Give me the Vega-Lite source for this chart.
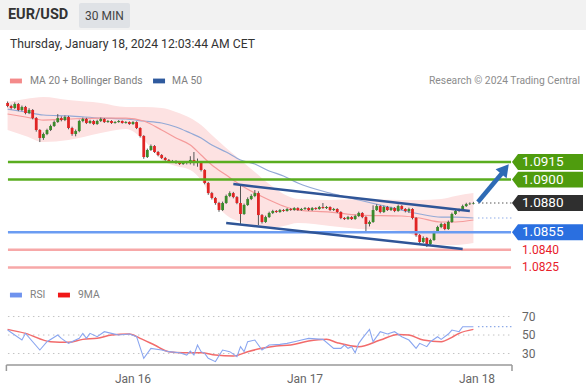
{
"$schema": "https://vega.github.io/schema/vega-lite/v6.json",
"width": 586, "height": 392, "padding": 0, "autosize": {"type": "none"},
"background": "#ffffff",
"config": {"view": {"stroke": null}, "font": "Roboto"},
"datasets": {
"one": [{}],
"candles": [
{"t":"2024-01-15T06:30Z","o":1.09655,"h":1.09668,"l":1.09618,"c":1.09629},
{"t":"2024-01-15T07:00Z","o":1.09629,"h":1.09640,"l":1.09600,"c":1.09612},
{"t":"2024-01-15T07:30Z","o":1.09612,"h":1.09660,"l":1.09604,"c":1.09646},
{"t":"2024-01-15T08:00Z","o":1.09646,"h":1.09655,"l":1.09585,"c":1.09595},
{"t":"2024-01-15T08:30Z","o":1.09595,"h":1.09633,"l":1.09585,"c":1.09621},
{"t":"2024-01-15T09:00Z","o":1.09621,"h":1.09630,"l":1.09558,"c":1.09569},
{"t":"2024-01-15T09:30Z","o":1.09569,"h":1.09610,"l":1.09560,"c":1.09595},
{"t":"2024-01-15T10:00Z","o":1.09595,"h":1.09603,"l":1.09515,"c":1.09526},
{"t":"2024-01-15T10:30Z","o":1.09526,"h":1.09535,"l":1.09410,"c":1.09424},
{"t":"2024-01-15T11:00Z","o":1.09424,"h":1.09432,"l":1.09321,"c":1.09356},
{"t":"2024-01-15T11:30Z","o":1.09356,"h":1.09402,"l":1.09340,"c":1.09390},
{"t":"2024-01-15T12:00Z","o":1.09390,"h":1.09435,"l":1.09380,"c":1.09424},
{"t":"2024-01-15T12:30Z","o":1.09424,"h":1.09470,"l":1.09415,"c":1.09458},
{"t":"2024-01-15T13:00Z","o":1.09458,"h":1.09505,"l":1.09450,"c":1.09492},
{"t":"2024-01-15T13:30Z","o":1.09492,"h":1.09560,"l":1.09485,"c":1.09526},
{"t":"2024-01-15T14:00Z","o":1.09526,"h":1.09540,"l":1.09498,"c":1.09509},
{"t":"2024-01-15T14:30Z","o":1.09509,"h":1.09548,"l":1.09500,"c":1.09535},
{"t":"2024-01-15T15:00Z","o":1.09535,"h":1.09545,"l":1.09430,"c":1.09441},
{"t":"2024-01-15T15:30Z","o":1.09441,"h":1.09452,"l":1.09375,"c":1.09390},
{"t":"2024-01-15T16:00Z","o":1.09390,"h":1.09428,"l":1.09370,"c":1.09415},
{"t":"2024-01-15T16:30Z","o":1.09415,"h":1.09512,"l":1.09405,"c":1.09501},
{"t":"2024-01-15T17:00Z","o":1.09501,"h":1.09530,"l":1.09490,"c":1.09518},
{"t":"2024-01-15T17:30Z","o":1.09518,"h":1.09528,"l":1.09475,"c":1.09484},
{"t":"2024-01-15T18:00Z","o":1.09484,"h":1.09512,"l":1.09476,"c":1.09501},
{"t":"2024-01-15T18:30Z","o":1.09501,"h":1.09510,"l":1.09466,"c":1.09475},
{"t":"2024-01-15T19:00Z","o":1.09475,"h":1.09512,"l":1.09468,"c":1.09501},
{"t":"2024-01-15T19:30Z","o":1.09501,"h":1.09530,"l":1.09492,"c":1.09518},
{"t":"2024-01-15T20:00Z","o":1.09518,"h":1.09526,"l":1.09484,"c":1.09492},
{"t":"2024-01-15T20:30Z","o":1.09492,"h":1.09510,"l":1.09485,"c":1.09501},
{"t":"2024-01-15T21:00Z","o":1.09501,"h":1.09508,"l":1.09476,"c":1.09484},
{"t":"2024-01-15T21:30Z","o":1.09484,"h":1.09500,"l":1.09478,"c":1.09492},
{"t":"2024-01-15T22:00Z","o":1.09492,"h":1.09509,"l":1.09486,"c":1.09501},
{"t":"2024-01-15T22:30Z","o":1.09501,"h":1.09506,"l":1.09478,"c":1.09484},
{"t":"2024-01-15T23:00Z","o":1.09484,"h":1.09500,"l":1.09478,"c":1.09492},
{"t":"2024-01-15T23:30Z","o":1.09492,"h":1.09498,"l":1.09468,"c":1.09475},
{"t":"2024-01-16T00:00Z","o":1.09475,"h":1.09500,"l":1.09468,"c":1.09492},
{"t":"2024-01-16T00:30Z","o":1.09492,"h":1.09498,"l":1.09432,"c":1.09441},
{"t":"2024-01-16T01:00Z","o":1.09441,"h":1.09448,"l":1.09360,"c":1.09373},
{"t":"2024-01-16T01:30Z","o":1.09373,"h":1.09380,"l":1.09178,"c":1.09193},
{"t":"2024-01-16T02:00Z","o":1.09193,"h":1.09265,"l":1.09185,"c":1.09253},
{"t":"2024-01-16T02:30Z","o":1.09253,"h":1.09300,"l":1.09245,"c":1.09287},
{"t":"2024-01-16T03:00Z","o":1.09287,"h":1.09295,"l":1.09228,"c":1.09236},
{"t":"2024-01-16T03:30Z","o":1.09236,"h":1.09245,"l":1.09200,"c":1.09210},
{"t":"2024-01-16T04:00Z","o":1.09210,"h":1.09218,"l":1.09176,"c":1.09185},
{"t":"2024-01-16T04:30Z","o":1.09185,"h":1.09194,"l":1.09160,"c":1.09168},
{"t":"2024-01-16T05:00Z","o":1.09168,"h":1.09176,"l":1.09142,"c":1.09150},
{"t":"2024-01-16T05:30Z","o":1.09150,"h":1.09168,"l":1.09142,"c":1.09159},
{"t":"2024-01-16T06:00Z","o":1.09159,"h":1.09166,"l":1.09135,"c":1.09142},
{"t":"2024-01-16T06:30Z","o":1.09142,"h":1.09150,"l":1.09125,"c":1.09133},
{"t":"2024-01-16T07:00Z","o":1.09133,"h":1.09158,"l":1.09126,"c":1.09150},
{"t":"2024-01-16T07:30Z","o":1.09150,"h":1.09158,"l":1.09130,"c":1.09142},
{"t":"2024-01-16T08:00Z","o":1.09142,"h":1.09200,"l":1.09130,"c":1.09168},
{"t":"2024-01-16T08:30Z","o":1.09168,"h":1.09236,"l":1.09120,"c":1.09150},
{"t":"2024-01-16T09:00Z","o":1.09150,"h":1.09180,"l":1.09110,"c":1.09142},
{"t":"2024-01-16T09:30Z","o":1.09142,"h":1.09150,"l":1.09070,"c":1.09082},
{"t":"2024-01-16T10:00Z","o":1.09082,"h":1.09090,"l":1.08960,"c":1.08971},
{"t":"2024-01-16T10:30Z","o":1.08971,"h":1.08980,"l":1.08870,"c":1.08885},
{"t":"2024-01-16T11:00Z","o":1.08885,"h":1.08895,"l":1.08830,"c":1.08843},
{"t":"2024-01-16T11:30Z","o":1.08843,"h":1.08852,"l":1.08785,"c":1.08800},
{"t":"2024-01-16T12:00Z","o":1.08800,"h":1.08810,"l":1.08725,"c":1.08740},
{"t":"2024-01-16T12:30Z","o":1.08740,"h":1.08812,"l":1.08732,"c":1.08800},
{"t":"2024-01-16T13:00Z","o":1.08800,"h":1.08872,"l":1.08792,"c":1.08860},
{"t":"2024-01-16T13:30Z","o":1.08860,"h":1.08900,"l":1.08850,"c":1.08885},
{"t":"2024-01-16T14:00Z","o":1.08885,"h":1.08895,"l":1.08840,"c":1.08851},
{"t":"2024-01-16T14:30Z","o":1.08851,"h":1.08860,"l":1.08790,"c":1.08800},
{"t":"2024-01-16T15:00Z","o":1.08800,"h":1.08954,"l":1.08612,"c":1.08706},
{"t":"2024-01-16T15:30Z","o":1.08706,"h":1.08795,"l":1.08698,"c":1.08783},
{"t":"2024-01-16T16:00Z","o":1.08783,"h":1.08848,"l":1.08775,"c":1.08834},
{"t":"2024-01-16T16:30Z","o":1.08834,"h":1.08875,"l":1.08825,"c":1.08860},
{"t":"2024-01-16T17:00Z","o":1.08860,"h":1.08911,"l":1.08850,"c":1.08885},
{"t":"2024-01-16T17:30Z","o":1.08885,"h":1.08900,"l":1.08612,"c":1.08697},
{"t":"2024-01-16T18:00Z","o":1.08697,"h":1.08706,"l":1.08625,"c":1.08638},
{"t":"2024-01-16T18:30Z","o":1.08638,"h":1.08692,"l":1.08630,"c":1.08680},
{"t":"2024-01-16T19:00Z","o":1.08680,"h":1.08726,"l":1.08672,"c":1.08715},
{"t":"2024-01-16T19:30Z","o":1.08715,"h":1.08742,"l":1.08706,"c":1.08732},
{"t":"2024-01-16T20:00Z","o":1.08732,"h":1.08740,"l":1.08715,"c":1.08723},
{"t":"2024-01-16T20:30Z","o":1.08723,"h":1.08749,"l":1.08716,"c":1.08740},
{"t":"2024-01-16T21:00Z","o":1.08740,"h":1.08748,"l":1.08725,"c":1.08732},
{"t":"2024-01-16T21:30Z","o":1.08732,"h":1.08757,"l":1.08726,"c":1.08749},
{"t":"2024-01-16T22:00Z","o":1.08749,"h":1.08756,"l":1.08733,"c":1.08740},
{"t":"2024-01-16T22:30Z","o":1.08740,"h":1.08765,"l":1.08734,"c":1.08757},
{"t":"2024-01-16T23:00Z","o":1.08757,"h":1.08764,"l":1.08733,"c":1.08740},
{"t":"2024-01-16T23:30Z","o":1.08740,"h":1.08758,"l":1.08733,"c":1.08749},
{"t":"2024-01-17T00:00Z","o":1.08749,"h":1.08766,"l":1.08741,"c":1.08757},
{"t":"2024-01-17T00:30Z","o":1.08757,"h":1.08764,"l":1.08732,"c":1.08740},
{"t":"2024-01-17T01:00Z","o":1.08740,"h":1.08766,"l":1.08733,"c":1.08757},
{"t":"2024-01-17T01:30Z","o":1.08757,"h":1.08764,"l":1.08741,"c":1.08749},
{"t":"2024-01-17T02:00Z","o":1.08749,"h":1.08775,"l":1.08742,"c":1.08766},
{"t":"2024-01-17T02:30Z","o":1.08766,"h":1.08800,"l":1.08750,"c":1.08757},
{"t":"2024-01-17T03:00Z","o":1.08757,"h":1.08775,"l":1.08749,"c":1.08766},
{"t":"2024-01-17T03:30Z","o":1.08766,"h":1.08772,"l":1.08732,"c":1.08740},
{"t":"2024-01-17T04:00Z","o":1.08740,"h":1.08758,"l":1.08732,"c":1.08749},
{"t":"2024-01-17T04:30Z","o":1.08749,"h":1.08756,"l":1.08715,"c":1.08723},
{"t":"2024-01-17T05:00Z","o":1.08723,"h":1.08730,"l":1.08662,"c":1.08672},
{"t":"2024-01-17T05:30Z","o":1.08672,"h":1.08680,"l":1.08655,"c":1.08663},
{"t":"2024-01-17T06:00Z","o":1.08663,"h":1.08690,"l":1.08656,"c":1.08680},
{"t":"2024-01-17T06:30Z","o":1.08680,"h":1.08688,"l":1.08655,"c":1.08663},
{"t":"2024-01-17T07:00Z","o":1.08663,"h":1.08700,"l":1.08656,"c":1.08689},
{"t":"2024-01-17T07:30Z","o":1.08689,"h":1.08726,"l":1.08680,"c":1.08715},
{"t":"2024-01-17T08:00Z","o":1.08715,"h":1.08722,"l":1.08670,"c":1.08680},
{"t":"2024-01-17T08:30Z","o":1.08680,"h":1.08688,"l":1.08552,"c":1.08621},
{"t":"2024-01-17T09:00Z","o":1.08621,"h":1.08650,"l":1.08600,"c":1.08638},
{"t":"2024-01-17T09:30Z","o":1.08638,"h":1.08780,"l":1.08630,"c":1.08740},
{"t":"2024-01-17T10:00Z","o":1.08740,"h":1.08790,"l":1.08732,"c":1.08774},
{"t":"2024-01-17T10:30Z","o":1.08774,"h":1.08782,"l":1.08712,"c":1.08723},
{"t":"2024-01-17T11:00Z","o":1.08723,"h":1.08778,"l":1.08715,"c":1.08766},
{"t":"2024-01-17T11:30Z","o":1.08766,"h":1.08775,"l":1.08732,"c":1.08740},
{"t":"2024-01-17T12:00Z","o":1.08740,"h":1.08768,"l":1.08732,"c":1.08757},
{"t":"2024-01-17T12:30Z","o":1.08757,"h":1.08765,"l":1.08722,"c":1.08732},
{"t":"2024-01-17T13:00Z","o":1.08732,"h":1.08786,"l":1.08725,"c":1.08774},
{"t":"2024-01-17T13:30Z","o":1.08774,"h":1.08782,"l":1.08740,"c":1.08749},
{"t":"2024-01-17T14:00Z","o":1.08749,"h":1.08757,"l":1.08720,"c":1.08732},
{"t":"2024-01-17T14:30Z","o":1.08732,"h":1.08760,"l":1.08715,"c":1.08749},
{"t":"2024-01-17T15:00Z","o":1.08749,"h":1.08756,"l":1.08660,"c":1.08672},
{"t":"2024-01-17T15:30Z","o":1.08672,"h":1.08680,"l":1.08512,"c":1.08526},
{"t":"2024-01-17T16:00Z","o":1.08526,"h":1.08535,"l":1.08450,"c":1.08467},
{"t":"2024-01-17T16:30Z","o":1.08467,"h":1.08515,"l":1.08458,"c":1.08501},
{"t":"2024-01-17T17:00Z","o":1.08501,"h":1.08510,"l":1.08424,"c":1.08450},
{"t":"2024-01-17T17:30Z","o":1.08450,"h":1.08495,"l":1.08440,"c":1.08484},
{"t":"2024-01-17T18:00Z","o":1.08484,"h":1.08562,"l":1.08476,"c":1.08552},
{"t":"2024-01-17T18:30Z","o":1.08552,"h":1.08606,"l":1.08545,"c":1.08595},
{"t":"2024-01-17T19:00Z","o":1.08595,"h":1.08632,"l":1.08585,"c":1.08621},
{"t":"2024-01-17T19:30Z","o":1.08621,"h":1.08630,"l":1.08568,"c":1.08578},
{"t":"2024-01-17T20:00Z","o":1.08578,"h":1.08650,"l":1.08570,"c":1.08638},
{"t":"2024-01-17T20:30Z","o":1.08638,"h":1.08718,"l":1.08630,"c":1.08706},
{"t":"2024-01-17T21:00Z","o":1.08706,"h":1.08745,"l":1.08698,"c":1.08732},
{"t":"2024-01-17T21:30Z","o":1.08732,"h":1.08752,"l":1.08722,"c":1.08740},
{"t":"2024-01-17T22:00Z","o":1.08740,"h":1.08786,"l":1.08732,"c":1.08774},
{"t":"2024-01-17T22:30Z","o":1.08774,"h":1.08802,"l":1.08766,"c":1.08791},
{"t":"2024-01-17T23:00Z","o":1.08791,"h":1.08806,"l":1.08783,"c":1.08795},
{"t":"2024-01-17T23:30Z","o":1.08795,"h":1.08810,"l":1.08788,"c":1.08800}
],
"bands": [
{"t":"2024-01-15T06:30Z","up":1.09663,"lo":1.09424,"m20":1.09561,"m50":1.09603},
{"t":"2024-01-15T09:00Z","up":1.09689,"lo":1.09373,"m20":1.09535,"m50":1.09578},
{"t":"2024-01-15T11:30Z","up":1.09706,"lo":1.09321,"m20":1.09509,"m50":1.09552},
{"t":"2024-01-15T15:00Z","up":1.09680,"lo":1.09338,"m20":1.09518,"m50":1.09544},
{"t":"2024-01-15T19:30Z","up":1.09655,"lo":1.09398,"m20":1.09526,"m50":1.09526},
{"t":"2024-01-15T23:00Z","up":1.09621,"lo":1.09432,"m20":1.09526,"m50":1.09518},
{"t":"2024-01-16T01:30Z","up":1.09621,"lo":1.09338,"m20":1.09501,"m50":1.09501},
{"t":"2024-01-16T04:00Z","up":1.09612,"lo":1.09168,"m20":1.09424,"m50":1.09484},
{"t":"2024-01-16T06:00Z","up":1.09578,"lo":1.09116,"m20":1.09356,"m50":1.09450},
{"t":"2024-01-16T08:00Z","up":1.09526,"lo":1.09082,"m20":1.09296,"m50":1.09398},
{"t":"2024-01-16T09:30Z","up":1.09467,"lo":1.08997,"m20":1.09210,"m50":1.09356},
{"t":"2024-01-16T11:00Z","up":1.09381,"lo":1.08843,"m20":1.09125,"m50":1.09296},
{"t":"2024-01-16T13:00Z","up":1.09270,"lo":1.08697,"m20":1.09039,"m50":1.09236},
{"t":"2024-01-16T15:00Z","up":1.09168,"lo":1.08638,"m20":1.08954,"m50":1.09168},
{"t":"2024-01-16T17:00Z","up":1.09065,"lo":1.08603,"m20":1.08885,"m50":1.09133},
{"t":"2024-01-16T19:00Z","up":1.08962,"lo":1.08586,"m20":1.08826,"m50":1.09074},
{"t":"2024-01-16T21:00Z","up":1.08877,"lo":1.08603,"m20":1.08774,"m50":1.09031},
{"t":"2024-01-16T23:00Z","up":1.08834,"lo":1.08629,"m20":1.08740,"m50":1.08971},
{"t":"2024-01-17T03:30Z","up":1.08826,"lo":1.08603,"m20":1.08723,"m50":1.08885},
{"t":"2024-01-17T07:30Z","up":1.08834,"lo":1.08578,"m20":1.08697,"m50":1.08826},
{"t":"2024-01-17T13:30Z","up":1.08826,"lo":1.08561,"m20":1.08689,"m50":1.08740},
{"t":"2024-01-17T16:00Z","up":1.08826,"lo":1.08501,"m20":1.08672,"m50":1.08706},
{"t":"2024-01-17T19:00Z","up":1.08834,"lo":1.08441,"m20":1.08638,"m50":1.08680},
{"t":"2024-01-17T21:00Z","up":1.08860,"lo":1.08441,"m20":1.08638,"m50":1.08680},
{"t":"2024-01-17T23:30Z","up":1.08885,"lo":1.08458,"m20":1.08655,"m50":1.08672}
],
"rsi": [
{"t":"2024-01-15T06:30Z","v":55.4},{"t":"2024-01-15T08:30Z","v":44.6},{"t":"2024-01-15T09:00Z","v":51.8},
{"t":"2024-01-15T11:00Z","v":33.8},{"t":"2024-01-15T12:00Z","v":42.8},{"t":"2024-01-15T13:30Z","v":50},
{"t":"2024-01-15T14:00Z","v":46.4},{"t":"2024-01-15T15:00Z","v":41},{"t":"2024-01-15T16:30Z","v":46.4},
{"t":"2024-01-15T17:00Z","v":51.8},{"t":"2024-01-15T17:30Z","v":46.4},{"t":"2024-01-15T18:00Z","v":51.8},
{"t":"2024-01-15T19:00Z","v":48.2},{"t":"2024-01-15T20:00Z","v":53.6},{"t":"2024-01-15T21:00Z","v":51.8},
{"t":"2024-01-15T22:00Z","v":50},{"t":"2024-01-15T23:30Z","v":51.1},{"t":"2024-01-16T00:30Z","v":48.2},
{"t":"2024-01-16T01:30Z","v":24.8},{"t":"2024-01-16T02:30Z","v":35.6},{"t":"2024-01-16T04:00Z","v":33.8},
{"t":"2024-01-16T05:00Z","v":32},{"t":"2024-01-16T06:30Z","v":30.9},{"t":"2024-01-16T07:30Z","v":28.4},
{"t":"2024-01-16T08:00Z","v":32.7},{"t":"2024-01-16T08:30Z","v":28.4},{"t":"2024-01-16T09:00Z","v":39.2},
{"t":"2024-01-16T09:30Z","v":32},{"t":"2024-01-16T10:00Z","v":30.2},{"t":"2024-01-16T10:30Z","v":24.8},
{"t":"2024-01-16T11:30Z","v":21.2},{"t":"2024-01-16T12:30Z","v":33.8},{"t":"2024-01-16T13:30Z","v":32},
{"t":"2024-01-16T14:30Z","v":26.6},{"t":"2024-01-16T15:00Z","v":37.4},{"t":"2024-01-16T15:30Z","v":32},
{"t":"2024-01-16T16:00Z","v":42.8},{"t":"2024-01-16T17:00Z","v":44.6},{"t":"2024-01-16T18:00Z","v":33.8},
{"t":"2024-01-16T19:00Z","v":39.2},{"t":"2024-01-16T20:30Z","v":39.9},{"t":"2024-01-16T21:30Z","v":41},
{"t":"2024-01-16T22:30Z","v":42.8},{"t":"2024-01-16T23:30Z","v":44.6},{"t":"2024-01-17T00:30Z","v":46.4},
{"t":"2024-01-17T02:30Z","v":45.3},{"t":"2024-01-17T04:00Z","v":35.6},{"t":"2024-01-17T05:00Z","v":35.6},
{"t":"2024-01-17T05:30Z","v":39.2},{"t":"2024-01-17T06:00Z","v":35.6},{"t":"2024-01-17T06:30Z","v":37.4},
{"t":"2024-01-17T07:00Z","v":30.9},{"t":"2024-01-17T07:30Z","v":41},{"t":"2024-01-17T08:00Z","v":46.4},
{"t":"2024-01-17T09:00Z","v":56.1},{"t":"2024-01-17T09:30Z","v":42.8},{"t":"2024-01-17T10:30Z","v":53.6},
{"t":"2024-01-17T11:30Z","v":51.1},{"t":"2024-01-17T12:30Z","v":53.6},{"t":"2024-01-17T13:30Z","v":48.2},
{"t":"2024-01-17T14:30Z","v":44.6},{"t":"2024-01-17T15:30Z","v":35.6},{"t":"2024-01-17T16:00Z","v":41},
{"t":"2024-01-17T17:00Z","v":37.4},{"t":"2024-01-17T17:30Z","v":42.8},{"t":"2024-01-17T18:30Z","v":48.2},
{"t":"2024-01-17T19:00Z","v":45.3},{"t":"2024-01-17T20:00Z","v":51.1},{"t":"2024-01-17T20:30Z","v":55.4},
{"t":"2024-01-17T21:30Z","v":53.6},{"t":"2024-01-17T22:00Z","v":59},{"t":"2024-01-17T23:30Z","v":59}
],
"ma9": [
{"t":"2024-01-15T06:30Z","v":56.1},{"t":"2024-01-15T09:00Z","v":51.8},{"t":"2024-01-15T12:30Z","v":42.8},
{"t":"2024-01-15T15:00Z","v":42.1},{"t":"2024-01-15T17:00Z","v":45.3},{"t":"2024-01-15T19:00Z","v":46.4},
{"t":"2024-01-15T21:00Z","v":50},{"t":"2024-01-15T23:30Z","v":51.1},{"t":"2024-01-16T01:00Z","v":46.4},
{"t":"2024-01-16T03:00Z","v":39.2},{"t":"2024-01-16T05:00Z","v":32},{"t":"2024-01-16T07:00Z","v":30.9},
{"t":"2024-01-16T09:30Z","v":30.9},{"t":"2024-01-16T11:30Z","v":28.4},{"t":"2024-01-16T14:00Z","v":27.3},
{"t":"2024-01-16T16:00Z","v":32},{"t":"2024-01-16T18:00Z","v":35.6},{"t":"2024-01-16T20:00Z","v":38.1},
{"t":"2024-01-16T22:00Z","v":39.2},{"t":"2024-01-17T00:30Z","v":43.5},{"t":"2024-01-17T03:00Z","v":45.3},
{"t":"2024-01-17T04:30Z","v":41.7},{"t":"2024-01-17T07:30Z","v":37.4},{"t":"2024-01-17T10:30Z","v":44.6},
{"t":"2024-01-17T13:00Z","v":50.7},{"t":"2024-01-17T14:30Z","v":50},{"t":"2024-01-17T16:30Z","v":44.6},
{"t":"2024-01-17T19:00Z","v":42.8},{"t":"2024-01-17T20:30Z","v":47.5},{"t":"2024-01-17T21:30Z","v":51.8},
{"t":"2024-01-17T23:30Z","v":56.1}
],
"levels": [
{"p":1.0915,"k":"r2"},{"p":1.0900,"k":"r1"},{"p":1.0880,"k":"last"},
{"p":1.0855,"k":"piv"},{"p":1.0840,"k":"s1"},{"p":1.0825,"k":"s2"}
],
"rsigrid": [{"v":70},{"v":50},{"v":30}],
"days": [{"d":"2024-01-16T00:00Z","lab":"Jan 16"},{"d":"2024-01-17T00:00Z","lab":"Jan 17"},{"d":"2024-01-18T00:00Z","lab":"Jan 18"}]
},
"resolve": {"scale": {"y": "independent"}},
"layer": [
{"layer": [
{"data": {"name": "one"},
 "mark": {"type": "rect", "color": "#f2f2f2"},
 "encoding": {
  "x": {"datum": {"year":2024,"month":1,"date":15,"hours":5,"minutes":26,"seconds":30,"utc":true}, "type": "temporal", "axis": null},
  "x2": {"datum": {"year":2024,"month":1,"date":18,"hours":15,"minutes":12,"seconds":33,"utc":true}},
  "y": {"datum": 1.10535, "type": "quantitative", "axis": null, "scale": {"domain": [1.07185, 1.10535], "nice": false, "zero": false}},
  "y2": {"datum": 1.10279}}},
{"data": {"name": "one"},
 "mark": {"type": "rect", "color": "#dfe2e6", "cornerRadius": 2},
 "encoding": {
  "x": {"datum": {"year":2024,"month":1,"date":15,"hours":16,"minutes":28,"utc":true}, "type": "temporal", "axis": null},
  "x2": {"datum": {"year":2024,"month":1,"date":15,"hours":23,"minutes":35,"utc":true}},
  "y": {"datum": 1.10509, "type": "quantitative", "axis": null},
  "y2": {"datum": 1.10296}}},
{"data": {"name": "one"},
 "mark": {"type": "text", "text": "EUR/USD", "align": "left", "baseline": "middle", "fontSize": 14.5, "fontWeight": "bold", "color": "#333333"},
 "encoding": {
  "x": {"datum": {"year":2024,"month":1,"date":15,"hours":6,"minutes":33,"utc":true}, "type": "temporal", "axis": null},
  "y": {"datum": 1.10407, "type": "quantitative", "axis": null}}},
{"data": {"name": "one"},
 "mark": {"type": "text", "text": "30 MIN", "align": "center", "baseline": "middle", "fontSize": 12, "color": "#444444"},
 "encoding": {
  "x": {"datum": {"year":2024,"month":1,"date":15,"hours":20,"minutes":1,"utc":true}, "type": "temporal", "axis": null},
  "y": {"datum": 1.10402, "type": "quantitative", "axis": null}}},
{"data": {"name": "one"},
 "mark": {"type": "text", "text": "Thursday, January 18, 2024 12:03:44 AM CET", "align": "left", "baseline": "middle", "fontSize": 12.2, "color": "#333333"},
 "encoding": {
  "x": {"datum": {"year":2024,"month":1,"date":15,"hours":6,"minutes":50,"utc":true}, "type": "temporal", "axis": null},
  "y": {"datum": 1.10159, "type": "quantitative", "axis": null}}},
{"data": {"name": "one"},
 "mark": {"type": "point", "shape": "M-1,-0.4L1,-0.4L1,0.4L-1,0.4Z", "size": 144, "filled": true, "opacity": 1, "color": "#f48a8a", "strokeWidth": 0},
 "encoding": {
  "x": {"datum": {"year":2024,"month":1,"date":15,"hours":7,"minutes":40,"utc":true}, "type": "temporal", "axis": null},
  "y": {"datum": 1.09843, "type": "quantitative", "axis": null}}},
{"data": {"name": "one"},
 "mark": {"type": "text", "text": "MA 20 + Bollinger Bands", "align": "left", "baseline": "middle", "fontSize": 10.3, "color": "#808080"},
 "encoding": {
  "x": {"datum": {"year":2024,"month":1,"date":15,"hours":9,"minutes":38,"utc":true}, "type": "temporal", "axis": null},
  "y": {"datum": 1.09843, "type": "quantitative", "axis": null}}},
{"data": {"name": "one"},
 "mark": {"type": "point", "shape": "M-1,-0.4L1,-0.4L1,0.4L-1,0.4Z", "size": 144, "filled": true, "opacity": 1, "color": "#2f5a9e", "strokeWidth": 0},
 "encoding": {
  "x": {"datum": {"year":2024,"month":1,"date":16,"hours":3,"minutes":38,"utc":true}, "type": "temporal", "axis": null},
  "y": {"datum": 1.09843, "type": "quantitative", "axis": null}}},
{"data": {"name": "one"},
 "mark": {"type": "text", "text": "MA 50", "align": "left", "baseline": "middle", "fontSize": 10.3, "color": "#808080"},
 "encoding": {
  "x": {"datum": {"year":2024,"month":1,"date":16,"hours":5,"minutes":27,"utc":true}, "type": "temporal", "axis": null},
  "y": {"datum": 1.09843, "type": "quantitative", "axis": null}}},
{"data": {"name": "one"},
 "mark": {"type": "text", "text": "Research © 2024 Trading Central", "align": "right", "baseline": "middle", "fontSize": 10.3, "color": "#8c8c8c"},
 "encoding": {
  "x": {"datum": {"year":2024,"month":1,"date":18,"hours":14,"minutes":22,"utc":true}, "type": "temporal", "axis": null},
  "y": {"datum": 1.09843, "type": "quantitative", "axis": null}}},
{"data": {"name": "bands"},
 "mark": {"type": "area", "color": "#fde2e2", "opacity": 1, "interpolate": "monotone"},
 "encoding": {
  "x": {"field": "t", "type": "temporal", "axis": null},
  "y": {"field": "up", "type": "quantitative", "axis": null},
  "y2": {"field": "lo"}}},
{"data": {"name": "bands"},
 "mark": {"type": "line", "color": "#93a9d6", "strokeWidth": 1.2, "interpolate": "monotone"},
 "encoding": {
  "x": {"field": "t", "type": "temporal", "axis": null},
  "y": {"field": "m50", "type": "quantitative", "axis": null}}},
{"data": {"name": "bands"},
 "mark": {"type": "line", "color": "#f59b9b", "strokeWidth": 1.2, "interpolate": "monotone"},
 "encoding": {
  "x": {"field": "t", "type": "temporal", "axis": null},
  "y": {"field": "m20", "type": "quantitative", "axis": null}}},
{"data": {"name": "candles"},
 "mark": {"type": "rule", "color": "#555555", "strokeWidth": 1},
 "encoding": {
  "x": {"field": "t", "type": "temporal", "axis": null, "scale": {"type": "utc", "domain": [{"year":2024,"month":1,"date":15,"hours":5,"minutes":26,"seconds":30,"utc":true}, {"year":2024,"month":1,"date":18,"hours":15,"minutes":12,"seconds":33,"utc":true}]}},
  "y": {"field": "l", "type": "quantitative", "axis": null},
  "y2": {"field": "h"}}},
{"data": {"name": "candles"},
 "mark": {"type": "rule", "strokeWidth": 2.8},
 "encoding": {
  "x": {"field": "t", "type": "temporal", "axis": null},
  "y": {"field": "o", "type": "quantitative", "axis": null},
  "y2": {"field": "c"},
  "color": {"condition": {"test": "datum.c >= datum.o", "value": "#3b8a2c"}, "value": "#e02424"}}},
{"data": {"name": "levels"},
 "transform": [{"filter": "datum.k != 'last'"}],
 "mark": {"type": "rule"},
 "encoding": {
  "x": {"datum": {"year":2024,"month":1,"date":15,"hours":6,"minutes":33,"utc":true}, "type": "temporal", "axis": null},
  "x2": {"datum": {"year":2024,"month":1,"date":18,"hours":4,"minutes":45,"utc":true}},
  "y": {"field": "p", "type": "quantitative", "axis": null},
  "stroke": {"field": "k", "type": "nominal", "legend": null, "scale": {"domain": ["r2","r1","piv","s1","s2"], "range": ["#5aad1f","#5aad1f","#6b9cf2","#f7a8a8","#f7a8a8"]}},
  "strokeWidth": {"field": "k", "type": "nominal", "legend": null, "scale": {"domain": ["r2","r1","piv","s1","s2"], "range": [2.5,2.5,1.6,1,1]}}}},
{"data": {"name": "levels"},
 "transform": [{"filter": "datum.k == 'last'"}],
 "mark": {"type": "rule", "color": "#555555", "strokeWidth": 1.2, "strokeDash": [1.5, 2.5]},
 "encoding": {
  "x": {"datum": {"year":2024,"month":1,"date":18,"hours":0,"minutes":8,"utc":true}, "type": "temporal", "axis": null},
  "x2": {"datum": {"year":2024,"month":1,"date":18,"hours":4,"minutes":53,"utc":true}},
  "y": {"field": "p", "type": "quantitative", "axis": null}}},
{"data": {"name": "one"},
 "mark": {"type": "rule", "color": "#8fabe8", "strokeWidth": 1.2, "strokeDash": [1.5, 2.5]},
 "encoding": {
  "x": {"datum": {"year":2024,"month":1,"date":18,"hours":0,"minutes":8,"utc":true}, "type": "temporal", "axis": null},
  "x2": {"datum": {"year":2024,"month":1,"date":18,"hours":4,"minutes":53,"utc":true}},
  "y": {"datum": 1.08672, "type": "quantitative", "axis": null}}},
{"data": {"name": "one"},
 "mark": {"type": "rule", "color": "#2f5597", "strokeWidth": 2.5},
 "encoding": {
  "x": {"datum": {"year":2024,"month":1,"date":16,"hours":14,"minutes":0,"utc":true}, "type": "temporal", "axis": null},
  "x2": {"datum": {"year":2024,"month":1,"date":17,"hours":23,"minutes":0,"utc":true}},
  "y": {"datum": 1.08962, "type": "quantitative", "axis": null},
  "y2": {"datum": 1.08732}}},
{"data": {"name": "one"},
 "mark": {"type": "rule", "color": "#2f5597", "strokeWidth": 2.5},
 "encoding": {
  "x": {"datum": {"year":2024,"month":1,"date":16,"hours":13,"minutes":0,"utc":true}, "type": "temporal", "axis": null},
  "x2": {"datum": {"year":2024,"month":1,"date":17,"hours":22,"minutes":0,"utc":true}},
  "y": {"datum": 1.08629, "type": "quantitative", "axis": null},
  "y2": {"datum": 1.08407}}},
{"data": {"name": "one"},
 "mark": {"type": "rule", "color": "#2e6bb5", "strokeWidth": 4.5},
 "encoding": {
  "x": {"datum": {"year":2024,"month":1,"date":18,"hours":0,"minutes":8,"utc":true}, "type": "temporal", "axis": null},
  "x2": {"datum": {"year":2024,"month":1,"date":18,"hours":3,"minutes":38,"utc":true}},
  "y": {"datum": 1.08809, "type": "quantitative", "axis": null},
  "y2": {"datum": 1.09065}}},
{"data": {"name": "one"},
 "mark": {"type": "point", "shape": "triangle-up", "size": 200, "filled": true, "opacity": 1, "color": "#2e6bb5", "angle": 39, "strokeWidth": 0},
 "encoding": {
  "x": {"datum": {"year":2024,"month":1,"date":18,"hours":3,"minutes":54,"utc":true}, "type": "temporal", "axis": null},
  "y": {"datum": 1.09091, "type": "quantitative", "axis": null}}},
{"data": {"name": "levels"},
 "transform": [{"filter": "datum.k == 'r2' || datum.k == 'r1' || datum.k == 'last' || datum.k == 'piv'"}],
 "mark": {"type": "point", "shape": "M-1,0L-0.83,-0.225L1,-0.225L1,0.225L-0.83,0.225Z", "size": 5041, "filled": true, "opacity": 1, "strokeWidth": 0},
 "encoding": {
  "x": {"datum": {"year":2024,"month":1,"date":18,"hours":9,"minutes":50,"utc":true}, "type": "temporal", "axis": null},
  "y": {"field": "p", "type": "quantitative", "axis": null},
  "fill": {"field": "k", "type": "nominal", "legend": null, "scale": {"domain": ["r2","r1","last","piv"], "range": ["#4f9c0e","#4f9c0e","#2f2f2f","#2a6fe0"]}}}},
{"data": {"name": "levels"},
 "transform": [{"filter": "datum.k == 'r2' || datum.k == 'r1' || datum.k == 'last' || datum.k == 'piv'"}],
 "mark": {"type": "text", "align": "left", "baseline": "middle", "fontSize": 13.5, "color": "#ffffff"},
 "encoding": {
  "x": {"datum": {"year":2024,"month":1,"date":18,"hours":6,"minutes":17,"utc":true}, "type": "temporal", "axis": null},
  "y": {"field": "p", "type": "quantitative", "axis": null},
  "text": {"field": "p", "type": "quantitative", "format": ".4f"}}},
{"data": {"name": "levels"},
 "transform": [{"filter": "datum.k == 's1' || datum.k == 's2'"}],
 "mark": {"type": "text", "align": "left", "baseline": "middle", "fontSize": 12, "color": "#e8202a"},
 "encoding": {
  "x": {"datum": {"year":2024,"month":1,"date":18,"hours":6,"minutes":17,"utc":true}, "type": "temporal", "axis": null},
  "y": {"field": "p", "type": "quantitative", "axis": null},
  "text": {"field": "p", "type": "quantitative", "format": ".4f"}}}
]},
{"layer": [
{"data": {"name": "one"},
 "mark": {"type": "point", "shape": "M-1,-0.4L1,-0.4L1,0.4L-1,0.4Z", "size": 144, "filled": true, "opacity": 1, "color": "#6f93ee", "strokeWidth": 0},
 "encoding": {
  "x": {"datum": {"year":2024,"month":1,"date":15,"hours":7,"minutes":40,"utc":true}, "type": "temporal", "axis": null},
  "y": {"datum": 93.2, "type": "quantitative", "axis": null, "scale": {"domain": [-11.6, 412.2], "nice": false, "zero": false}}}},
{"data": {"name": "one"},
 "mark": {"type": "text", "text": "RSI", "align": "left", "baseline": "middle", "fontSize": 10.3, "color": "#808080"},
 "encoding": {
  "x": {"datum": {"year":2024,"month":1,"date":15,"hours":9,"minutes":38,"utc":true}, "type": "temporal", "axis": null},
  "y": {"datum": 93.2, "type": "quantitative", "axis": null}}},
{"data": {"name": "one"},
 "mark": {"type": "point", "shape": "M-1,-0.4L1,-0.4L1,0.4L-1,0.4Z", "size": 144, "filled": true, "opacity": 1, "color": "#f01818", "strokeWidth": 0},
 "encoding": {
  "x": {"datum": {"year":2024,"month":1,"date":15,"hours":14,"minutes":22,"utc":true}, "type": "temporal", "axis": null},
  "y": {"datum": 93.2, "type": "quantitative", "axis": null}}},
{"data": {"name": "one"},
 "mark": {"type": "text", "text": "9MA", "align": "left", "baseline": "middle", "fontSize": 10.3, "color": "#808080"},
 "encoding": {
  "x": {"datum": {"year":2024,"month":1,"date":15,"hours":16,"minutes":20,"utc":true}, "type": "temporal", "axis": null},
  "y": {"datum": 93.2, "type": "quantitative", "axis": null}}},
{"data": {"name": "rsigrid"},
 "mark": {"type": "rule", "color": "#c4c4c4", "strokeWidth": 1, "strokeDash": [1.5, 3.5]},
 "encoding": {
  "x": {"datum": {"year":2024,"month":1,"date":15,"hours":6,"minutes":33,"utc":true}, "type": "temporal", "axis": null},
  "x2": {"datum": {"year":2024,"month":1,"date":18,"hours":4,"minutes":53,"utc":true}},
  "y": {"field": "v", "type": "quantitative", "axis": null}}},
{"data": {"name": "rsigrid"},
 "mark": {"type": "text", "align": "left", "baseline": "middle", "fontSize": 12, "color": "#666666"},
 "encoding": {
  "x": {"datum": {"year":2024,"month":1,"date":18,"hours":6,"minutes":17,"utc":true}, "type": "temporal", "axis": null},
  "y": {"field": "v", "type": "quantitative", "axis": null},
  "text": {"field": "v", "type": "quantitative"}}},
{"data": {"name": "one"},
 "mark": {"type": "rule", "color": "#8fabe8", "strokeWidth": 1.2, "strokeDash": [1.5, 2.5]},
 "encoding": {
  "x": {"datum": {"year":2024,"month":1,"date":18,"hours":0,"minutes":8,"utc":true}, "type": "temporal", "axis": null},
  "x2": {"datum": {"year":2024,"month":1,"date":18,"hours":4,"minutes":53,"utc":true}},
  "y": {"datum": 59, "type": "quantitative", "axis": null}}},
{"data": {"name": "one"},
 "mark": {"type": "rule", "color": "#999999", "strokeWidth": 1.5},
 "encoding": {
  "x": {"datum": {"year":2024,"month":1,"date":15,"hours":6,"minutes":20,"utc":true}, "type": "temporal", "axis": null},
  "x2": {"datum": {"year":2024,"month":1,"date":18,"hours":4,"minutes":53,"utc":true}},
  "y": {"datum": 17.6, "type": "quantitative", "axis": null}}},
{"data": {"name": "one"},
 "mark": {"type": "rule", "color": "#999999", "strokeWidth": 1.5},
 "encoding": {
  "x": {"datum": {"year":2024,"month":1,"date":15,"hours":6,"minutes":20,"utc":true}, "type": "temporal", "axis": null},
  "y": {"datum": 17.6, "type": "quantitative", "axis": null},
  "y2": {"datum": 11.1}}},
{"data": {"name": "one"},
 "mark": {"type": "rule", "color": "#999999", "strokeWidth": 1.5},
 "encoding": {
  "x": {"datum": {"year":2024,"month":1,"date":18,"hours":4,"minutes":53,"utc":true}, "type": "temporal", "axis": null},
  "y": {"datum": 17.6, "type": "quantitative", "axis": null},
  "y2": {"datum": 11.1}}},
{"data": {"name": "days"},
 "mark": {"type": "text", "align": "center", "baseline": "middle", "fontSize": 12, "color": "#666666"},
 "encoding": {
  "x": {"field": "d", "type": "temporal", "axis": null},
  "y": {"datum": 2.4, "type": "quantitative", "axis": null},
  "text": {"field": "lab", "type": "nominal"}}},
{"data": {"name": "ma9"},
 "mark": {"type": "line", "color": "#f26b6b", "strokeWidth": 1.5, "interpolate": "monotone"},
 "encoding": {
  "x": {"field": "t", "type": "temporal", "axis": null},
  "y": {"field": "v", "type": "quantitative", "axis": null}}},
{"data": {"name": "rsi"},
 "mark": {"type": "line", "color": "#8aa6f0", "strokeWidth": 1.1},
 "encoding": {
  "x": {"field": "t", "type": "temporal", "axis": null},
  "y": {"field": "v", "type": "quantitative", "axis": null}}}
]}
]
}
